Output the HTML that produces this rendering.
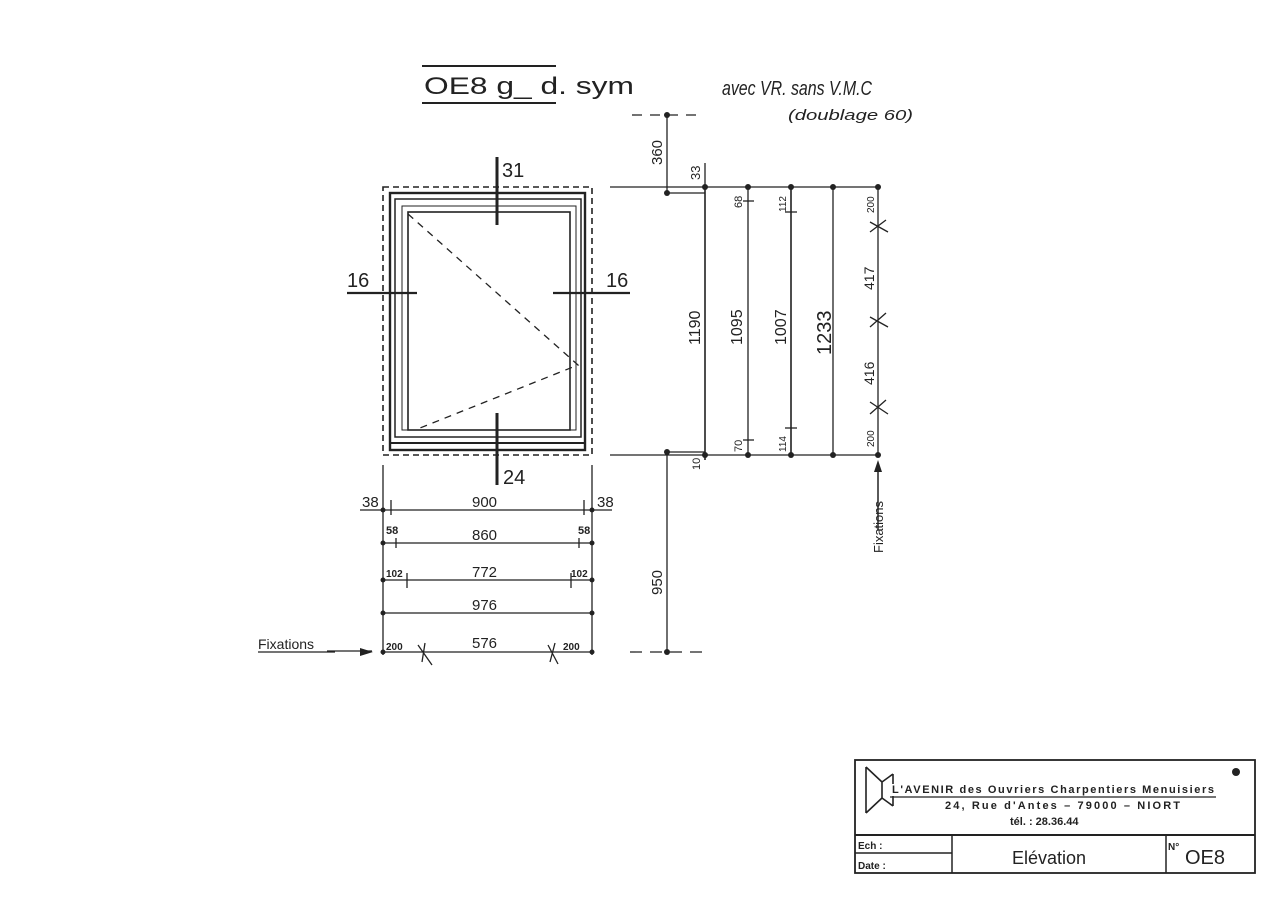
<!DOCTYPE html>
<html><head><meta charset="utf-8"><style>
html,body{margin:0;padding:0;background:#fff;}
svg{display:block;}
text{font-family:"Liberation Sans",sans-serif;fill:#222;}
</style></head><body>
<svg width="1280" height="904" viewBox="0 0 1280 904" xmlns="http://www.w3.org/2000/svg">
<g stroke="#222" fill="none" stroke-width="1.3">
<line x1="422" y1="66" x2="556" y2="66" stroke-width="2"/>
<line x1="422" y1="103" x2="556" y2="103" stroke-width="2"/>
<rect x="383" y="187" width="209" height="268" stroke-dasharray="6,4" stroke-width="1.6"/>
<rect x="390" y="193" width="195" height="257" stroke-width="2.4"/>
<rect x="395" y="199" width="186" height="238" stroke-width="1.5"/>
<rect x="402" y="206" width="174" height="224" stroke-width="1"/>
<rect x="408" y="212" width="162" height="218" stroke-width="1.6"/>
<line x1="390" y1="443" x2="585" y2="443" stroke-width="2"/>
<path d="M408 214 L578 365 L415 430" stroke-dasharray="7,6"/>
<line x1="497" y1="157" x2="497" y2="225" stroke-width="3"/>
<line x1="497" y1="413" x2="497" y2="485" stroke-width="3"/>
<line x1="347" y1="293" x2="417" y2="293" stroke-width="2.2"/>
<line x1="553" y1="293" x2="630" y2="293" stroke-width="2.2"/>
<line x1="383" y1="465" x2="383" y2="655"/>
<line x1="592" y1="465" x2="592" y2="655"/>
<line x1="610" y1="187" x2="880" y2="187"/>
<line x1="610" y1="455" x2="880" y2="455"/>
<line x1="632" y1="115" x2="700" y2="115" stroke-dasharray="10,8"/>
<line x1="630" y1="652" x2="708" y2="652" stroke-dasharray="12,8"/>
<path d="M667 115 V193 H705"/>
<path d="M705 452 H667 V652"/>
<line x1="705" y1="187" x2="705" y2="460" stroke-width="1.6"/>
<line x1="705" y1="163" x2="705" y2="187"/>
<line x1="748" y1="187" x2="748" y2="455"/>
<line x1="791" y1="187" x2="791" y2="455" stroke-width="1.6"/>
<line x1="833" y1="187" x2="833" y2="455"/>
<line x1="878" y1="187" x2="878" y2="455"/>
<line x1="743" y1="201" x2="754" y2="201"/><line x1="743" y1="440" x2="754" y2="440"/>
<line x1="785" y1="212" x2="797" y2="212"/><line x1="785" y1="428" x2="797" y2="428"/>
<path d="M870 222 L888 232 M870 232 L886 220 M870 317 L888 327 M870 327 L886 313 M870 402 L888 414 M870 414 L886 400"/>
<line x1="878" y1="530" x2="878" y2="470" stroke-width="1.5"/>
<line x1="383" y1="510" x2="592" y2="510"/>
<line x1="360" y1="510" x2="383" y2="510"/><line x1="592" y1="510" x2="612" y2="510"/>
<line x1="391" y1="500" x2="391" y2="515"/><line x1="584" y1="500" x2="584" y2="515"/>
<line x1="383" y1="543" x2="592" y2="543"/>
<line x1="396" y1="538" x2="396" y2="548"/><line x1="579" y1="538" x2="579" y2="548"/>
<line x1="383" y1="580" x2="592" y2="580"/>
<line x1="407" y1="573" x2="407" y2="588"/><line x1="571" y1="573" x2="571" y2="588"/>
<line x1="383" y1="613" x2="592" y2="613"/>
<line x1="383" y1="652" x2="592" y2="652"/>
<path d="M418 645 L432 665 M425 643 L422 662 M548 645 L558 664 M555 643 L550 662"/>
<line x1="327" y1="651" x2="372" y2="651"/>
<line x1="258" y1="652" x2="335" y2="652"/>
<rect x="855" y="760" width="400" height="113" stroke-width="1.8"/>
<line x1="855" y1="835" x2="1255" y2="835" stroke-width="2"/>
<line x1="855" y1="853" x2="952" y2="853" stroke-width="1.5"/>
<line x1="952" y1="835" x2="952" y2="873" stroke-width="1.5"/>
<line x1="1166" y1="835" x2="1166" y2="873" stroke-width="1.5"/>
<line x1="890" y1="797" x2="1216" y2="797"/>
<path d="M866 767 L882 782 L882 798 L866 813 M866 767 V813 M882 782 L893 774 M882 798 L893 806 M893 774 V784 M893 796 V806" stroke-width="1.6"/>
</g>
<g fill="#222">
<polygon points="360,648 373,652 360,656"/>
<polygon points="874,472 878,460 882,472"/>
<circle cx="667" cy="115" r="3"/><circle cx="667" cy="193" r="3"/><circle cx="667" cy="452" r="3"/><circle cx="667" cy="652" r="3"/>
<circle cx="705" cy="187" r="3"/><circle cx="705" cy="455" r="3"/><circle cx="748" cy="187" r="3"/><circle cx="748" cy="455" r="3"/>
<circle cx="791" cy="187" r="3"/><circle cx="791" cy="455" r="3"/><circle cx="833" cy="187" r="3"/><circle cx="833" cy="455" r="3"/>
<circle cx="878" cy="187" r="3"/><circle cx="878" cy="455" r="3"/>
<circle cx="383" cy="510" r="2.5"/><circle cx="592" cy="510" r="2.5"/><circle cx="383" cy="543" r="2.5"/><circle cx="592" cy="543" r="2.5"/>
<circle cx="383" cy="580" r="2.5"/><circle cx="592" cy="580" r="2.5"/><circle cx="383" cy="613" r="2.5"/><circle cx="592" cy="613" r="2.5"/>
<circle cx="383" cy="652" r="2.5"/><circle cx="592" cy="652" r="2.5"/>
<circle cx="1236" cy="772" r="4"/>
</g>
<g font-size="22">
<text x="424" y="94" font-size="24" textLength="210" lengthAdjust="spacingAndGlyphs">OE8  g_  d. sym</text>
<text x="722" y="95" font-size="20" font-style="italic" textLength="150" lengthAdjust="spacingAndGlyphs">avec VR. sans V.M.C</text>
<text x="788" y="120" font-size="15" font-style="italic" textLength="125" lengthAdjust="spacingAndGlyphs">(doublage 60)</text>
<text x="502" y="177" font-size="20">31</text>
<text x="503" y="484" font-size="20">24</text>
<text x="347" y="287" font-size="20">16</text>
<text x="606" y="287" font-size="20">16</text>
</g>
<g font-size="15">
<text x="472" y="507">900</text>
<text x="362" y="507">38</text><text x="597" y="507">38</text>
<text x="472" y="540">860</text>
<text x="386" y="534" font-size="11" font-weight="bold">58</text><text x="578" y="534" font-size="11" font-weight="bold">58</text>
<text x="472" y="577">772</text>
<text x="386" y="577" font-size="10" font-weight="bold">102</text><text x="571" y="577" font-size="10" font-weight="bold">102</text>
<text x="472" y="610">976</text>
<text x="472" y="648">576</text>
<text x="386" y="650" font-size="10" font-weight="bold">200</text><text x="563" y="650" font-size="10" font-weight="bold">200</text>
<text x="258" y="649" font-size="14">Fixations</text>
<text transform="translate(700,345) rotate(-90)" font-size="16">1190</text>
<text transform="translate(742,345) rotate(-90)" font-size="16">1095</text>
<text transform="translate(786,345) rotate(-90)" font-size="16">1007</text>
<text transform="translate(831,355) rotate(-90)" font-size="20">1233</text>
<text transform="translate(874,290) rotate(-90)" font-size="14">417</text>
<text transform="translate(874,385) rotate(-90)" font-size="14">416</text>
<text transform="translate(874,213) rotate(-90)" font-size="10">200</text>
<text transform="translate(874,447) rotate(-90)" font-size="10">200</text>
<text transform="translate(742,208) rotate(-90)" font-size="11">68</text>
<text transform="translate(742,452) rotate(-90)" font-size="11">70</text>
<text transform="translate(786,212) rotate(-90)" font-size="10">112</text>
<text transform="translate(786,452) rotate(-90)" font-size="10">114</text>
<text transform="translate(700,180) rotate(-90)" font-size="13">33</text>
<text transform="translate(700,470) rotate(-90)" font-size="11">10</text>
<text transform="translate(662,165) rotate(-90)" font-size="15">360</text>
<text transform="translate(662,595) rotate(-90)" font-size="15">950</text>
<text transform="translate(883,553) rotate(-90)" font-size="13">Fixations</text>
</g>
<g font-weight="bold">
<text x="892" y="793" font-size="11" textLength="322" lengthAdjust="spacing">L'AVENIR   des  Ouvriers  Charpentiers  Menuisiers</text>
<text x="945" y="809" font-size="11" textLength="235" lengthAdjust="spacing">24, Rue d'Antes – 79000 – NIORT</text>
<text x="1010" y="825" font-size="11">tél. : 28.36.44</text>
<text x="858" y="849" font-size="10">Ech :</text>
<text x="858" y="869" font-size="10">Date :</text>
<text x="1168" y="850" font-size="10">N°</text>
</g>
<text x="1012" y="864" font-size="18">Elévation</text>
<text x="1185" y="864" font-size="20">OE8</text>
</svg>
</body></html>
